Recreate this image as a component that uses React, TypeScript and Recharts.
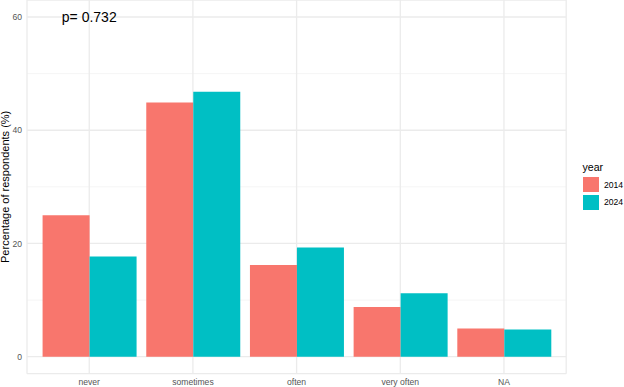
import React from 'react';
import { BarChart, Bar, XAxis, YAxis, CartesianGrid, ReferenceDot } from 'recharts';

const categories = ['never', 'sometimes', 'often', 'very often', 'NA'];
const values2014 = [25.0, 44.9, 16.2, 8.8, 5.0];
const values2024 = [17.7, 46.8, 19.3, 11.2, 4.8];
const seriesNames = ['2014', '2024'];
const seriesColors = ['#F8766D', '#00BFC4'];
const yTicks = [0, 20, 40, 60];
const yMinorTicks = [10, 30, 50];
const yDomain = [-3, 63];
const legendTitle = 'year';
const yTitle = 'Percentage of respondents (%)';
const pValueText = 'p= 0.732';
const pValueCategory = 'never';
const pValueY = 60;

const data = categories.map((c, i) => ({ category: c, '2014': values2014[i], '2024': values2024[i] }));

const FONT = '"Liberation Sans", Arial, sans-serif';

function mapY(props: any, v: number): number {
  const s = props?.yAxis?.scale;
  if (typeof s === 'function') return s(v);
  if (s && typeof s.map === 'function') return s.map(v);
  const off = props?.offset || { top: 0, height: props?.height || 0 };
  return off.top + ((yDomain[1] - v) / (yDomain[1] - yDomain[0])) * off.height;
}

export default function App() {
  return (
    <div style={{ position: 'absolute', left: 0, top: 0, width: 624, height: 387, background: '#fff', fontFamily: FONT }}>
      <BarChart
        width={624}
        height={387}
        data={data}
        margin={{ top: 0, right: 57.8, bottom: 0, left: 0 }}
        barCategoryGap="5%"
        barGap={0}
      >
        <CartesianGrid
          vertical={false}
          stroke="#F2F2F2"
          strokeWidth={0.8}
          horizontalCoordinatesGenerator={(props: any) => yMinorTicks.map((v) => mapY(props, v))}
        />
        <CartesianGrid stroke="#EBEBEB" strokeWidth={1.3} />
        <XAxis
          dataKey="category"
          height={13.3}
          padding={{ left: 10.4, right: 10.4 }}
          axisLine={false}
          tickLine={false}
          tickSize={3}
          tickMargin={2}
          interval={0}
          tick={{ fontSize: 8.6, fill: '#555', fontFamily: FONT }}
        />
        <YAxis
          type="number"
          domain={yDomain}
          ticks={yTicks}
          width={27}
          axisLine={false}
          tickLine={false}
          tickSize={3}
          tickMargin={2}
          tick={{ fontSize: 8.6, fill: '#555', fontFamily: FONT }}
          label={{
            value: yTitle,
            angle: -90,
            position: 'insideLeft',
            offset: 5,
            style: { textAnchor: 'middle', fontSize: 11, fill: '#000', fontFamily: FONT },
          }}
        />
        {seriesNames.map((name, i) => (
          <Bar key={name} dataKey={name} fill={seriesColors[i]} isAnimationActive={false} />
        ))}
        <ReferenceDot
          x={pValueCategory}
          y={pValueY}
          r={0}
          fill="none"
          stroke="none"
          label={{ value: pValueText, position: 'center', fontSize: 14, fill: '#000', fontFamily: FONT }}
        />
      </BarChart>
      <div style={{ position: 'absolute', left: 582.5, top: 160, fontFamily: FONT }}>
        <div style={{ fontSize: 10.6, color: '#000', lineHeight: '14px', height: 16 }}>{legendTitle}</div>
        {seriesNames.map((name, i) => (
          <div key={name} style={{ display: 'flex', alignItems: 'center', height: 17.4 }}>
            <div style={{ width: 16, height: 15, background: seriesColors[i] }} />
            <span style={{ fontSize: 8.6, color: '#000', marginLeft: 5.5 }}>{name}</span>
          </div>
        ))}
      </div>
    </div>
  );
}
